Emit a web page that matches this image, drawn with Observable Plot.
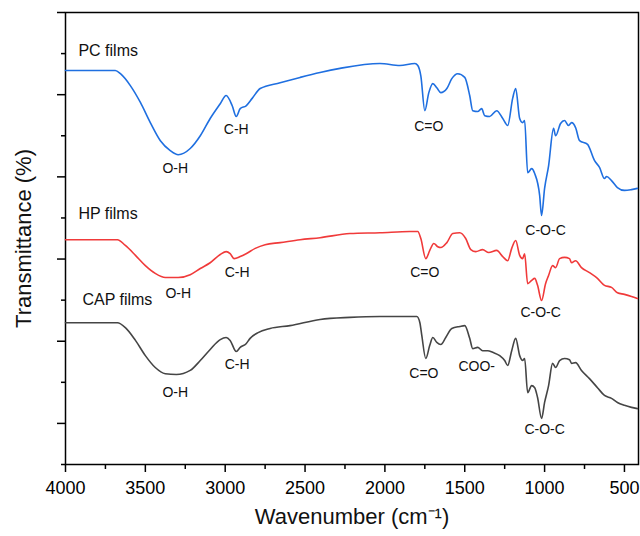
<!DOCTYPE html>
<html>
<head>
<meta charset="utf-8">
<script src="https://cdn.jsdelivr.net/npm/d3@7"></script>
<script src="https://cdn.jsdelivr.net/npm/@observablehq/plot@0.6"></script>
<style>
  html, body { margin: 0; padding: 0; background: #fff; }
  #chart { width: 640px; height: 536px; }
</style>
</head>
<body>
<div id="chart"></div>
<script>
// ---- Data (wavenumber in cm^-1, transmittance in arbitrary offset units) ----
const pcWn = [4000,3688,3656,3594,3531,3469,3406,3344,3294,3219,3156,3094,3031,2994,2956,2931,2906,2869,2831,2781,2656,2531,2406,2281,2031,1906,1812,1794,1775,1750,1725,1700,1675,1650,1612,1581,1544,1500,1469,1450,1419,1394,1375,1344,1300,1262,1231,1200,1181,1156,1138,1125,1106,1081,1062,1031,1019,1000,975,944,931,900,875,850,831,806,781,731,688,656,625,612,581,544,500,456,419];
const pcT  = [95.9,95.9,95.1,92.2,88.1,83.2,78.8,76.4,75.4,76.9,80.0,84.2,87.8,89.8,87.3,84.7,86.6,87.3,89.1,91.5,92.9,94.2,95.4,96.4,97.6,97.1,97.6,97.1,94.6,86.1,90.5,92.7,91.7,90.5,91.5,93.9,95.1,94.2,89.8,86.1,85.9,86.6,84.9,84.7,86.1,84.2,82.5,89.1,91.5,84.2,83.2,83.7,71.0,72.0,70.8,65.5,60.6,67.2,72.7,81.8,80.0,83.0,83.7,82.5,83.2,82.0,78.8,77.9,74.0,72.3,69.6,70.1,69.1,67.4,66.7,66.9,67.2];

const hpWn = [4000,3675,3625,3562,3500,3438,3375,3294,3219,3156,3094,3031,2994,2969,2944,2906,2869,2812,2750,2656,2531,2406,2219,2031,1844,1794,1775,1744,1719,1694,1669,1650,1612,1575,1531,1494,1462,1431,1388,1350,1300,1262,1231,1206,1181,1156,1138,1125,1106,1081,1062,1044,1019,994,975,950,931,906,875,844,831,806,769,719,669,625,581,544,500,456,419];
const hpT  = [54.7,54.7,53.3,50.9,48.4,46.5,45.5,45.5,46.2,47.7,49.1,51.1,51.8,51.3,50.1,50.6,51.3,52.6,53.5,54.0,54.7,55.2,56.2,56.4,56.7,56.7,55.0,50.1,52.1,53.8,53.0,52.8,54.0,56.2,56.4,55.0,52.3,51.8,52.3,51.6,52.1,50.6,49.6,52.6,54.5,50.9,50.1,51.3,44.0,44.8,45.3,43.6,39.9,44.0,46.0,48.4,47.9,50.1,50.4,50.1,49.1,49.6,47.9,46.7,45.3,43.6,43.1,41.8,41.4,40.9,40.4];

const capWn = [4000,3675,3625,3562,3500,3438,3375,3306,3219,3156,3094,3031,2994,2969,2931,2906,2869,2844,2794,2719,2594,2406,2219,2031,1800,1781,1769,1744,1719,1700,1675,1650,1619,1581,1531,1500,1469,1450,1419,1388,1356,1325,1281,1250,1231,1206,1181,1156,1138,1125,1106,1081,1062,1044,1019,1000,975,950,931,906,875,844,831,806,769,719,669,625,581,544,500,456,419];
const capT  = [34.5,34.5,33.3,30.2,26.5,23.6,22.1,21.9,22.9,25.3,28.0,30.4,30.9,30.2,27.5,28.5,29.4,30.7,32.1,33.1,33.8,35.3,35.8,36.0,36.0,34.5,31.4,25.8,29.0,30.9,29.7,29.2,30.9,33.1,33.6,33.8,30.7,28.2,28.5,27.7,27.7,27.3,26.5,25.3,24.1,27.7,30.7,26.5,25.3,25.8,17.5,19.2,18.7,16.3,11.2,15.1,19.2,24.6,23.6,25.3,25.8,25.5,24.6,24.8,22.9,20.9,18.7,16.8,16.1,15.1,14.4,13.9,13.6];

// series names and annotation labels
const seriesNames = ["PC films", "HP films", "CAP films"];
const seriesNameWn = [3919, 3919, 3894];
const seriesNameT = [100.7, 61.1, 40.1];

const bandText = ["O-H","C-H","C=O","C-O-C","O-H","C-H","C=O","C-O-C","O-H","C-H","C=O","COO-","C-O-C"];
const bandWn   = [3313,2931,1725,994,3294,2925,1750,1025,3313,2925,1756,1425,1000];
const bandT    = [72.0,81.5,82.2,56.9,41.6,46.7,46.7,37.0,17.5,24.3,22.1,23.8,8.5];

const xMajorTicks = [4000,3500,3000,2500,2000,1500,1000,500];
const xMinorTicks = [3750,3250,2750,2250,1750,1250,750];
const yMajorTicks = [10,30,50,70,90,110];
const yMinorTicks = [0,20,40,60,80,100];

const xTitle = "Wavenumber (cm\u207B\u00B9)";
const yTitle = "Transmittance (%)";

// ---- Build tables ----
const toRows = (wn, t) => wn.map((w, i) => ({wn: w, t: t[i]}));
const pcRows = toRows(pcWn, pcT);
const hpRows = toRows(hpWn, hpT);
const capRows = toRows(capWn, capT);
const nameRows = seriesNames.map((n, i) => ({text: n, wn: seriesNameWn[i], t: seriesNameT[i]}));
const bandRows = bandText.map((s, i) => ({text: s, wn: bandWn[i], t: bandT[i]}));

const font = "'Liberation Sans', Arial, Helvetica, sans-serif";

const chart = Plot.plot({
  width: 640,
  height: 536,
  marginLeft: 65,
  marginRight: 2,
  marginTop: 12,
  marginBottom: 72,
  style: {fontFamily: font, background: "#fff", color: "#000"},
  x: {domain: [4000, 412]},
  y: {domain: [0, 110]},
  marks: [
    Plot.axisX({ticks: xMajorTicks, tickSize: 8, tickPadding: 9, fontSize: 18, tickFormat: d => String(d), label: null, strokeWidth: 1.5}),
    Plot.axisX({ticks: xMinorTicks, tickSize: 5, tickFormat: () => "", label: null, strokeWidth: 1.5}),
    Plot.axisY({ticks: yMajorTicks, tickSize: 8, tickFormat: () => "", label: null, strokeWidth: 1.5}),
    Plot.axisY({ticks: yMinorTicks, tickSize: 4, tickFormat: () => "", label: null, strokeWidth: 1.5}),
    Plot.frame({stroke: "#000", strokeWidth: 1.5}),
    Plot.line(pcRows, {x: "wn", y: "t", stroke: "#1f6fe0", strokeWidth: 1.6, curve: "monotone-x"}),
    Plot.line(hpRows, {x: "wn", y: "t", stroke: "#f03a3a", strokeWidth: 1.6, curve: "monotone-x"}),
    Plot.line(capRows, {x: "wn", y: "t", stroke: "#454545", strokeWidth: 1.6, curve: "monotone-x"}),
    Plot.text(nameRows, {x: "wn", y: "t", text: "text", textAnchor: "start", fontSize: 16, fill: "#111"}),
    Plot.text(bandRows, {x: "wn", y: "t", text: "text", fontSize: 14, fill: "#111"}),
    Plot.text([xTitle], {frameAnchor: "bottom", textAnchor: "middle", dy: 59, fontSize: 22, fill: "#111"}),
    Plot.text([yTitle], {frameAnchor: "left", textAnchor: "middle", dx: -42, rotate: -90, fontSize: 22, fill: "#111"})
  ]
});
document.getElementById("chart").appendChild(chart);
</script>
</body>
</html>
